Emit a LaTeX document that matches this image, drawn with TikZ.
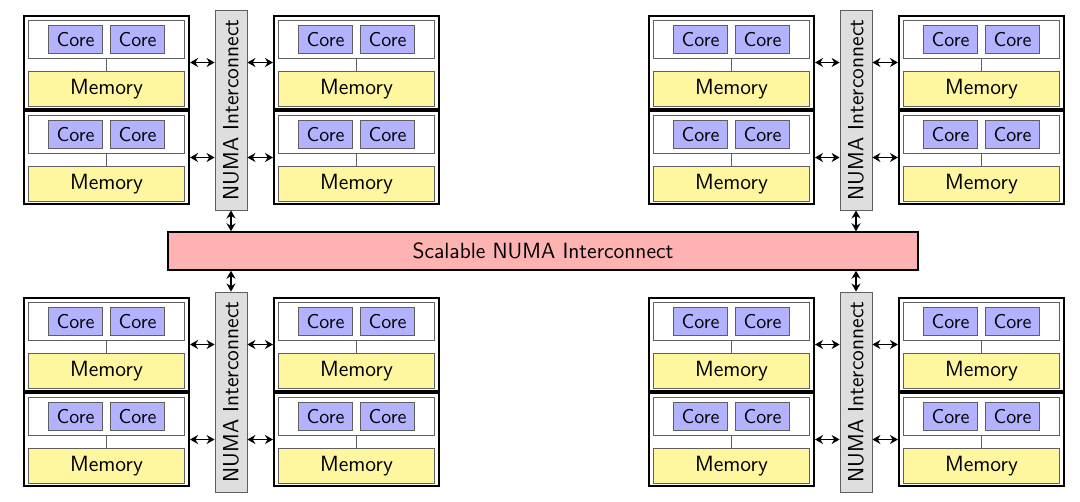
\documentclass[tikz,border=0pt]{standalone}
\usepackage{tikz}
\usetikzlibrary{arrows.meta}
\definecolor{corefill}{RGB}{178,178,255}
\definecolor{memfill}{RGB}{255,246,160}
\definecolor{linkfill}{RGB}{255,178,178}
\definecolor{barfill}{RGB}{222,222,222}
\definecolor{thinline}{RGB}{95,95,95}
\tikzset{
% Boxes of one NUMA node: outer frame, processor, cores and memory
node box/.style={draw,line width=1pt,minimum width=82.5pt,minimum height=46.5pt,inner sep=0},
proc box/.style={draw=thinline,fill=white,minimum width=78pt,minimum height=19pt,inner sep=0},
core box/.style={draw=thinline,fill=corefill,minimum width=27pt,minimum height=14pt,inner sep=0,font=\sffamily\fontsize{10}{12}\selectfont},
mem box/.style={draw=thinline,fill=memfill,minimum width=78pt,minimum height=17.5pt,inner sep=0,font=\sffamily\fontsize{11}{13}\selectfont},
% Interconnects
bar box/.style={draw=thinline,fill=barfill,rotate=90,minimum width=100pt,minimum height=16pt,inner sep=0,font=\sffamily\fontsize{11}{13}\selectfont},
link box/.style={draw,line width=0.7pt,fill=linkfill,minimum width=375pt,minimum height=19pt,inner sep=0,font=\sffamily\fontsize{11}{13}\selectfont},
link/.style={<->,line width=0.8pt,>={Stealth[length=4pt,width=4.5pt]}}
}

\begin{document}
\begin{tikzpicture}[x=0.5pt,y=-0.5pt]
\useasboundingbox (0,0) rectangle (1080,502);
% The scalable interconnect in the middle
\node(numa)[link box] at (543,251) {Scalable NUMA Interconnect};
% Four quadrants, each with a local interconnect and four nodes
\foreach \q/\ox/\oy in {a/0/0,b/625/0,c/0/282,d/625/282}{
\node(bar-\q)[bar box] at ({\ox+231},{\oy+110}) {NUMA Interconnect};
\foreach \c/\cx in {l/106.5,r/356.5}{
\foreach \r/\ry in {1/16,2/111}{
\node(box-\q\c\r)[node box] at ({\ox+\cx},{\oy+\ry+46.5}) {};
\node(proc-\q\c\r)[proc box] at ({\ox+\cx},{\oy+\ry+23.5}) {};
\node(core1-\q\c\r)[core box] at ({\ox+\cx-31},{\oy+\ry+23.5}) {Core};
\node(core2-\q\c\r)[core box] at ({\ox+\cx+31},{\oy+\ry+23.5}) {Core};
\node(mem-\q\c\r)[mem box] at ({\ox+\cx},{\oy+\ry+73}) {Memory};
\draw[thinline] (proc-\q\c\r.south) -- (mem-\q\c\r.north);
}
}
% Links from the nodes to the local interconnect
\foreach \r in {1,2}{
\draw[link] (box-\q l\r.east) -- (box-\q l\r.east -| bar-\q.north);
\draw[link] (box-\q r\r.west) -- (box-\q r\r.west -| bar-\q.south);
}
}
% Links to the scalable interconnect
\draw[link] (bar-a.west) -- (bar-a.west |- numa.north);
\draw[link] (bar-b.west) -- (bar-b.west |- numa.north);
\draw[link] (bar-c.east) -- (bar-c.east |- numa.south);
\draw[link] (bar-d.east) -- (bar-d.east |- numa.south);
\end{tikzpicture}
\end{document}
